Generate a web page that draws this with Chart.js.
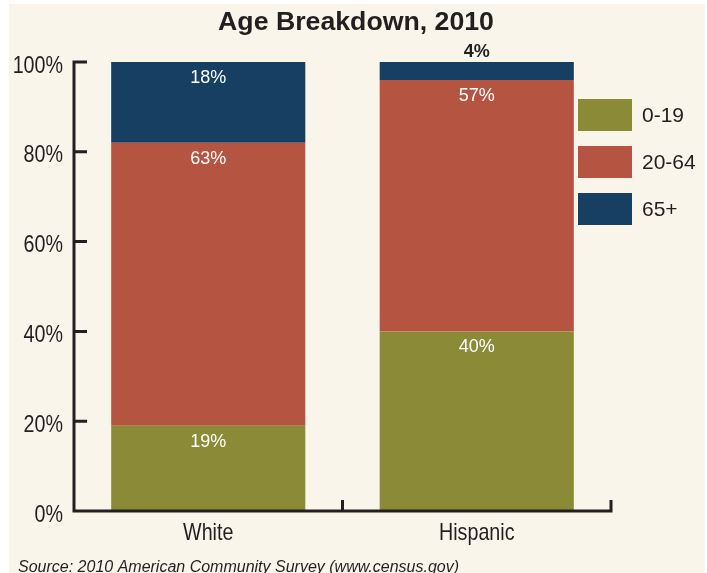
<!DOCTYPE html>
<html>
<head>
<meta charset="utf-8">
<script src="https://cdn.jsdelivr.net/npm/chart.js@4.4.1/dist/chart.umd.min.js"></script>
<style>
  html, body { margin: 0; padding: 0; background: #ffffff; }
  #wrap { width: 707px; height: 573px; }
</style>
</head>
<body>
<div id="wrap"><canvas id="ageChart" width="707" height="573"></canvas></div>
<script>
// data
const groups = ["White", "Hispanic"];
const ageBands = ["0-19", "20-64", "65+"];
const young = [19, 40];
const working = [63, 56];
const senior = [18, 4];
// printed percentages on the bars
const youngLabels = ["19%", "40%"];
const workingLabels = ["63%", "57%"];
const seniorLabels = ["18%", "4%"];
const yTicks = [0, 20, 40, 60, 80, 100];

const colors = ["#8b8b37", "#b65442", "#173f61"];
const ink = "#231f20";
const regular = "'Liberation Sans', Arial, sans-serif";
const squeeze = 0.82; // no Arial Narrow here, so condense by hand

function narrowText(ctx, text, x, y, align) {
  ctx.save();
  ctx.translate(x, y);
  ctx.scale(squeeze, 1);
  ctx.textAlign = align;
  ctx.textBaseline = "middle";
  ctx.fillText(text, 0, 0);
  ctx.restore();
}

// background, title, axes, legend, labels
const decor = {
  id: "decor",
  beforeDraw(chart) {
    const ctx = chart.ctx;
    ctx.save();
    ctx.fillStyle = "#ffffff";
    ctx.fillRect(0, 0, chart.width, chart.height);
    ctx.fillStyle = "#f9f5ea";
    ctx.fillRect(9, 4, 696, chart.height - 4);
    ctx.fillStyle = ink;
    ctx.font = "bold 26.7px " + regular;
    ctx.textAlign = "center";
    ctx.textBaseline = "middle";
    ctx.fillText("Age Breakdown, 2010", 356, 23);
    ctx.font = "italic 16px " + regular;
    ctx.textAlign = "left";
    ctx.fillText("Source: 2010 American Community Survey (www.census.gov)", 18, 568);
    ctx.restore();
  },
  afterDatasetsDraw(chart) {
    const ctx = chart.ctx;
    const area = chart.chartArea;
    const x = chart.scales.x;
    const y = chart.scales.y;
    ctx.save();
    ctx.strokeStyle = ink;
    ctx.lineWidth = 3;
    ctx.lineCap = "butt";
    // y axis + inward ticks
    ctx.beginPath();
    ctx.moveTo(area.left, y.getPixelForValue(100) - 1.5);
    ctx.lineTo(area.left, area.bottom + 1.5);
    yTicks.forEach((v) => {
      const py = y.getPixelForValue(v);
      ctx.moveTo(area.left, py);
      ctx.lineTo(area.left + 13, py);
    });
    // x axis + category dividers
    ctx.moveTo(area.left, area.bottom);
    ctx.lineTo(area.right + 1.5, area.bottom);
    const mid = (x.getPixelForValue(0) + x.getPixelForValue(1)) / 2;
    ctx.moveTo(mid, area.bottom);
    ctx.lineTo(mid, area.bottom - 11);
    ctx.moveTo(area.right, area.bottom);
    ctx.lineTo(area.right, area.bottom - 11);
    ctx.stroke();

    // tick labels, condensed
    ctx.fillStyle = ink;
    ctx.font = "24px " + regular;
    y.ticks.forEach((t) => {
      narrowText(ctx, t.value + "%", area.left - 11, y.getPixelForValue(t.value) + 4, "right");
    });
    x.getLabels().forEach((lab, i) => {
      narrowText(ctx, lab, x.getPixelForValue(i), area.bottom + 22, "center");
    });

    // bar value labels
    const printed = [youngLabels, workingLabels, seniorLabels];
    chart.data.datasets.forEach((ds, i) => {
      chart.getDatasetMeta(i).data.forEach((bar, j) => {
        const h = Math.abs(bar.base - bar.y);
        ctx.textAlign = "center";
        ctx.textBaseline = "middle";
        if (h > 30) {
          ctx.fillStyle = "#ffffff";
          ctx.font = "18px " + regular;
          ctx.fillText(printed[i][j], bar.x, bar.y + 16);
        } else {
          ctx.fillStyle = ink;
          ctx.font = "bold 18px " + regular;
          ctx.fillText(printed[i][j], bar.x, bar.y - 10);
        }
      });
    });

    // legend
    chart.data.datasets.forEach((ds, i) => {
      const top = 99 + i * 47;
      ctx.fillStyle = ds.backgroundColor;
      ctx.fillRect(578, top, 54, 32);
      ctx.fillStyle = ink;
      ctx.font = "21px " + regular;
      ctx.textAlign = "left";
      ctx.textBaseline = "middle";
      ctx.fillText(ds.label, 642, top + 17);
    });
    ctx.restore();
  }
};

new Chart(document.getElementById("ageChart"), {
  type: "bar",
  data: {
    labels: groups,
    datasets: [
      { label: ageBands[0], data: young, backgroundColor: colors[0] },
      { label: ageBands[1], data: working, backgroundColor: colors[1] },
      { label: ageBands[2], data: senior, backgroundColor: colors[2] },
    ],
  },
  options: {
    responsive: false,
    animation: false,
    devicePixelRatio: 1,
    layout: { padding: { left: 0, right: 96, top: 62, bottom: 0 } },
    plugins: {
      legend: { display: false },
      tooltip: { enabled: false },
    },
    datasets: {
      bar: { categoryPercentage: 1, barPercentage: 0.723, borderWidth: 0 },
    },
    scales: {
      x: {
        stacked: true,
        grid: { display: false, drawTicks: false },
        border: { display: false },
        ticks: { display: false },
        afterFit(scale) { scale.height = 62; },
      },
      y: {
        stacked: true,
        min: 0,
        max: 100,
        afterBuildTicks(scale) { scale.ticks = yTicks.map((v) => ({ value: v })); },
        grid: { display: false, drawTicks: false },
        border: { display: false },
        ticks: { display: false },
        afterFit(scale) { scale.width = 74; },
      },
    },
  },
  plugins: [decor],
});
</script>
</body>
</html>
